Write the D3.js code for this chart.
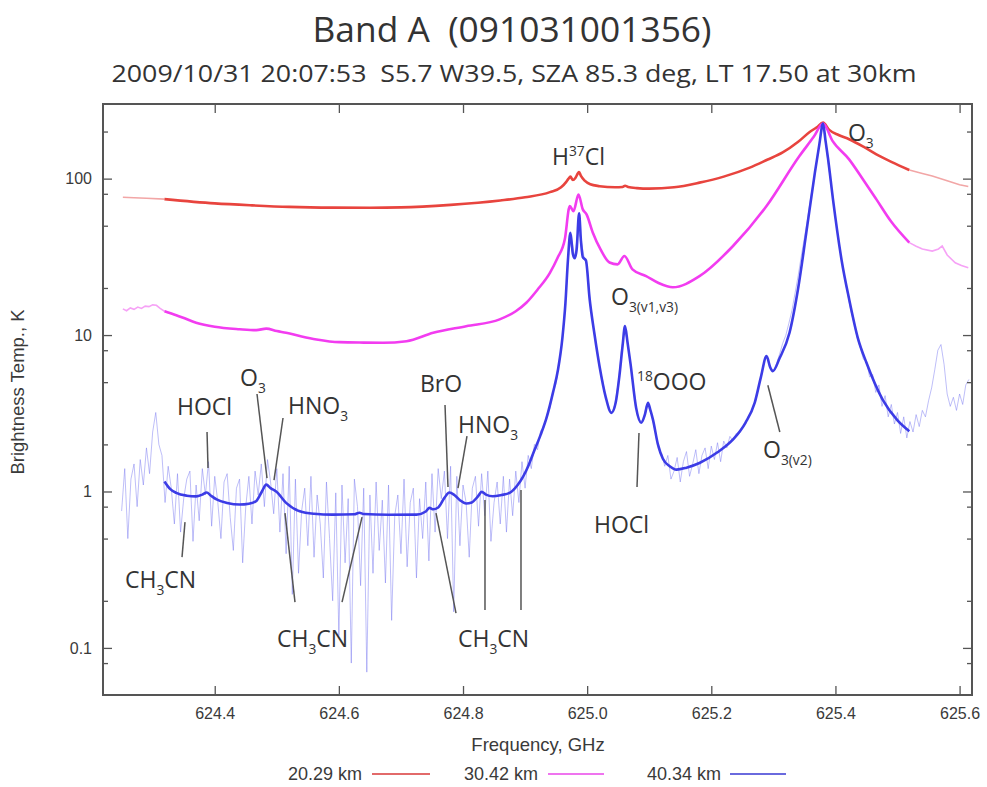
<!DOCTYPE html>
<html>
<head>
<meta charset="utf-8">
<script src="https://cdn.jsdelivr.net/npm/d3@7"></script>
<style>
  body { margin: 0; background: #fff; }
  svg { display: block; }
  .keep-space { white-space: pre; }
</style>
</head>
<body>
<svg id="chart" width="987" height="787"></svg>
<script>
// ---- Axis values ----
const freqDomain = [624.22, 625.62];           // GHz
const tempDomain = [0.05, 300];                // K
const xTicks = [624.4, 624.6, 624.8, 625.0, 625.2, 625.4, 625.6];
const yTicks = [0.1, 1, 10, 100];
const yMinorTicks = [0.08, 0.2, 0.5, 0.8, 2, 5, 8, 20, 50, 80, 200];

const seriesNames = ["20.29 km", "30.42 km", "40.34 km"];

// ---- 20.29 km: retrieval fit and measured edges [GHz, K] ----
const fit20 = [
  [624.319, 74], [624.40, 69.5], [624.46, 67.5], [624.52, 66], [624.59, 65.3],
  [624.65, 65.2], [624.70, 65.5], [624.78, 68], [624.86, 72.5], [624.90, 76],
  [624.94, 82], [624.958, 88], [624.966, 95], [624.970, 100], [624.973, 103],
  [624.977, 98], [624.981, 101], [624.985, 108], [624.987, 110], [624.990, 104],
  [624.996, 97], [625.005, 92], [625.02, 89.5], [625.045, 88], [625.057, 88.5],
  [625.061, 90], [625.066, 88.5], [625.08, 87], [625.10, 86.3], [625.14, 88],
  [625.181, 94.3], [625.22, 103], [625.262, 117.6], [625.29, 132], [625.315, 147],
  [625.34, 172], [625.358, 198], [625.37, 213], [625.380, 228], [625.39, 205],
  [625.405, 190], [625.422, 178.5], [625.445, 160], [625.466, 143], [625.49, 128],
  [625.519, 113.5]
];
const obs20Low = [[624.252, 76], [624.270, 75.5], [624.290, 75], [624.319, 74]];
const obs20High = [[625.519, 113.5], [625.540, 108], [625.556, 104], [625.580, 97],
  [625.600, 91.5], [625.614, 89]];

// ---- 30.42 km ----
const fit30 = [
  [624.319, 14.2], [624.338, 13.4], [624.348, 12.96], [624.37, 12.0], [624.40, 11.3],
  [624.44, 10.9], [624.467, 10.75], [624.483, 11.0], [624.50, 10.6], [624.515, 10.35],
  [624.54, 9.8], [624.564, 9.38], [624.601, 9.01], [624.64, 8.95], [624.671, 8.93],
  [624.709, 9.14], [624.752, 10.35], [624.805, 11.4], [624.859, 12.6], [624.885, 14.2],
  [624.902, 16.1], [624.92, 19.5], [624.940, 25], [624.952, 31], [624.964, 40.9],
  [624.972, 66.8], [624.978, 62], [624.986, 79], [624.993, 63.6], [624.999, 59.1],
  [625.009, 45.3], [625.022, 35], [625.036, 29.1], [625.049, 28.3], [625.060, 32.0],
  [625.073, 26.3], [625.095, 23.8], [625.115, 21.5], [625.138, 20.2], [625.181, 23.8],
  [625.235, 37.1], [625.289, 66.8], [625.342, 139.5], [625.365, 185], [625.380, 225],
  [625.395, 175], [625.422, 132.8], [625.445, 98], [625.466, 73.7], [625.49, 53],
  [625.519, 39]
];
const obs30Low = [[624.252, 14.7], [624.258, 14.3], [624.264, 14.9], [624.270, 14.6],
  [624.276, 15.1], [624.282, 14.8], [624.288, 15.3], [624.294, 15.2], [624.300, 15.6],
  [624.306, 15.5], [624.312, 14.8], [624.319, 14.2]];
const obs30High = [[625.519, 39], [625.530, 37], [625.540, 35.5], [625.556, 34.4],
  [625.566, 35.5], [625.572, 37.1], [625.580, 32.5], [625.593, 29], [625.603, 27.8],
  [625.614, 26.9]];

// ---- 40.34 km ----
const fit40 = [
  [624.319, 1.16], [624.328, 1.04], [624.338, 0.98], [624.355, 0.94], [624.370, 0.93],
  [624.380, 0.955], [624.387, 0.985], [624.394, 0.94], [624.403, 0.89], [624.420, 0.845],
  [624.440, 0.825], [624.455, 0.835], [624.467, 0.87], [624.476, 1.0], [624.483, 1.107],
  [624.490, 1.05], [624.499, 1.0], [624.515, 0.846], [624.537, 0.747], [624.560, 0.72],
  [624.590, 0.711], [624.625, 0.715], [624.633, 0.732], [624.640, 0.718], [624.680, 0.71],
  [624.725, 0.711], [624.740, 0.745], [624.746, 0.786], [624.752, 0.77], [624.760, 0.79],
  [624.770, 0.91], [624.778, 0.985], [624.786, 0.95], [624.795, 0.88], [624.805, 0.837],
  [624.814, 0.85], [624.824, 0.93], [624.830, 0.995], [624.837, 0.955], [624.848, 0.932],
  [624.862, 0.95], [624.875, 0.98], [624.888, 1.1], [624.897, 1.25], [624.905, 1.45],
  [624.913, 1.75], [624.925, 2.3], [624.935, 3.0], [624.945, 4.3], [624.953, 6.0],
  [624.960, 9.5], [624.965, 16], [624.969, 30], [624.973, 45], [624.977, 33],
  [624.980, 31], [624.983, 35], [624.987, 60], [624.990, 40], [624.993, 31.5],
  [624.998, 30], [625.004, 17], [625.012, 10], [625.020, 6.3], [625.030, 4.0],
  [625.039, 3.18], [625.046, 3.7], [625.052, 5.5], [625.057, 8.5], [625.061, 11.4],
  [625.065, 9.0], [625.070, 6.5], [625.079, 3.4], [625.087, 2.75], [625.093, 3.1],
  [625.098, 3.69], [625.102, 3.3], [625.106, 2.88], [625.114, 2.0], [625.122, 1.62],
  [625.133, 1.45], [625.144, 1.38], [625.160, 1.42], [625.181, 1.52], [625.210, 1.78],
  [625.235, 2.15], [625.255, 2.75], [625.270, 3.7], [625.280, 5.4], [625.289, 7.33],
  [625.295, 6.2], [625.299, 5.87], [625.310, 7.1], [625.326, 10.35], [625.340, 20],
  [625.353, 45], [625.367, 110], [625.374, 165], [625.380, 225], [625.384, 175],
  [625.388, 135], [625.396, 74], [625.410, 30], [625.422, 17], [625.436, 9.6],
  [625.450, 6.65], [625.476, 3.87], [625.500, 2.85], [625.519, 2.43]
];
// measured 40.34 km spectrum, one channel every 0.005 GHz from 624.250 GHz
const obs40Start = 624.250;
const obs40Step = 0.005;
const obs40 = [
  0.75, 1.4, 0.5, 1.2, 1.5, 0.8, 1.6, 1.1, 1.9, 1.3, 2.4, 3.2, 2.0, 1.7,
  0.85, 1.45, 1.05, 0.62, 1.30, 0.55, 0.90, 1.20, 1.35, 0.48, 1.10, 0.65, 1.40, 0.95,
  1.55, 0.60, 1.25, 0.85, 0.50, 1.15, 1.30, 0.68, 0.42, 1.05, 1.20, 0.35, 0.80, 1.25,
  0.62, 1.35, 0.95, 1.50, 0.80, 1.60, 1.15, 0.72, 1.40, 0.55, 1.30, 0.40, 1.45, 0.22,
  1.20, 0.30, 0.75, 1.05, 0.45, 1.25, 0.38, 0.95, 0.62, 0.28, 1.15, 0.50, 0.20, 0.98,
  0.12, 1.10, 0.35, 0.90, 0.08, 1.20, 0.80, 0.25, 1.05, 0.07, 0.95, 0.30, 1.15, 0.42,
  0.88, 0.26, 1.10, 0.15, 0.70, 0.95, 0.40, 1.20, 0.33, 0.85, 1.05, 0.28, 0.90, 0.50,
  1.15, 0.36, 1.30, 0.55, 1.40, 0.90, 1.35, 0.50, 1.45, 0.17, 1.25, 0.45, 1.10, 0.85,
  0.38, 1.05, 1.25, 0.60, 1.30, 0.70, 1.35, 0.48, 0.85, 1.15, 0.62, 1.25, 0.55, 1.20,
  0.70, 1.35, 0.85, 1.55, 1.05, 1.70, 1.40, 2.00, 1.85, 2.45, 2.55, 3.10, 3.40, 4.30,
  4.90, 6.90, 9.3, 16.5, 34, 41, 31.5, 46, 41, 31.5, 27.5, 16.3, 11.3, 8.4,
  6.2, 5.1, 3.95, 3.45, 3.15, 3.65, 4.95, 7.8, 10.8, 9.1, 6.5, 4.5, 3.25, 2.85,
  2.8, 3.5, 3.4, 3.0, 2.35, 1.85, 1.75, 1.45, 1.70, 1.20, 1.35, 1.65, 1.15, 1.55,
  1.80, 1.25, 1.50, 1.85, 1.30, 1.70, 1.90, 1.40, 1.95, 1.60, 2.05, 1.55, 2.10, 1.90,
  2.25, 2.10, 2.35, 2.35, 2.60, 2.70, 3.05, 3.25, 3.75, 4.35, 5.55, 6.75, 7.30, 6.25,
  5.85, 6.55, 7.55, 8.85, 9.95, 11.9, 14.4, 18.6, 24, 32, 42, 55, 75, 98,
  130, 175, 222, 160, 112, 78, 55, 40, 30, 23, 18, 14.2, 11.9, 9.6,
  8.3, 7.0, 6.8, 5.4, 5.6, 4.3, 4.8, 3.5, 4.1, 3.0, 3.6, 2.7, 3.2, 2.35,
  3.0, 2.2, 2.8, 2.4, 3.1, 2.6, 3.3, 3.0, 3.8, 4.6, 6.0, 8.0, 8.7, 6.5,
  4.2, 3.5, 4.0, 3.3, 4.2, 3.6, 4.8, 5.2
];

// ---- Line identifications: label parts, label anchor [GHz, K], leader segments ----
const lineLabels = [
  { parts: [{ t: "H" }, { t: "37", sup: true }, { t: "Cl" }], at: [624.9434, 122.2], leaders: [] },
  { parts: [{ t: "O" }, { t: "3", sub: true }], at: [625.4202, 174], leaders: [] },
  { parts: [{ t: "O" }, { t: "3(v1,v3)", sub: true }], at: [625.0384, 15.55], leaders: [] },
  { parts: [{ t: "18", sup: true }, { t: "OOO" }], at: [625.0803, 4.45], leaders: [] },
  { parts: [{ t: "O" }, { t: "3(v2)", sub: true }], at: [625.2833, 1.635],
    leaders: [[[625.2911, 4.78], [625.3104, 2.40]]] },
  { parts: [{ t: "HOCl" }], at: [625.011, 0.542],
    leaders: [[[625.0835, 2.363], [625.0803, 1.067]]] },
  { parts: [{ t: "O" }, { t: "3", sub: true }], at: [624.4407, 4.72],
    leaders: [[[624.4681, 4.2], [624.4842, 1.218]]] },
  { parts: [{ t: "HOCl" }], at: [624.3392, 3.08],
    leaders: [[[624.3876, 2.40], [624.3892, 1.411]]] },
  { parts: [{ t: "HNO" }, { t: "3", sub: true }], at: [624.518, 3.13],
    leaders: [[[624.510, 2.95], [624.4955, 1.183]]] },
  { parts: [{ t: "BrO" }], at: [624.7307, 4.32],
    leaders: [[[624.771, 3.57], [624.7758, 1.067]]] },
  { parts: [{ t: "HNO" }, { t: "3", sub: true }], at: [624.7919, 2.363],
    leaders: [[[624.8064, 2.26], [624.7919, 1.051]]] },
  { parts: [{ t: "CH" }, { t: "3", sub: true }, { t: "CN" }], at: [624.2554, 0.2412],
    leaders: [[[624.3521, 0.637], [624.3473, 0.3806]]] },
  { parts: [{ t: "CH" }, { t: "3", sub: true }, { t: "CN" }], at: [624.5003, 0.1012],
    leaders: [[[624.5132, 0.7275], [624.5293, 0.1963]], [[624.6373, 0.686], [624.6051, 0.1963]]] },
  { parts: [{ t: "CH" }, { t: "3", sub: true }, { t: "CN" }], at: [624.7919, 0.1012],
    leaders: [[[624.7565, 0.7275], [624.7887, 0.167]], [[624.8354, 0.881], [624.8354, 0.1745]],
              [[624.8934, 1.021], [624.8934, 0.1745]]] }
];

// ---- Layout ----
const plot = { left: 103, right: 972, top: 104, bottom: 695 };
const colors = {
  fit: ["#e8443e", "#f23cf0", "#3c3ce6"],
  obs: ["#f2a6a6", "#f6a2f6", "#7b7bf0"],
  legend: ["#e26a6a", "#ef74ef", "#6a6ade"]
};
const textColor = "#3a3a3a";
const axisColor = "#555";

const svg = d3.select("#chart");
const x = d3.scaleLinear().domain(freqDomain).range([plot.left, plot.right]);
const y = d3.scaleLog().domain(tempDomain).range([plot.bottom, plot.top]);

// Titles
svg.append("text")
  .attr("class", "keep-space")
  .attr("x", 512).attr("y", 42)
  .attr("text-anchor", "middle")
  .attr("font-family", "Open Sans, sans-serif")
  .attr("font-size", 34)
  .attr("fill", "#333")
  .attr("textLength", 399).attr("lengthAdjust", "spacingAndGlyphs")
  .text("Band A  (091031001356)");
svg.append("text")
  .attr("class", "keep-space")
  .attr("x", 514).attr("y", 82)
  .attr("text-anchor", "middle")
  .attr("font-family", "Open Sans, sans-serif")
  .attr("font-size", 23)
  .attr("fill", "#333")
  .attr("textLength", 805).attr("lengthAdjust", "spacingAndGlyphs")
  .text("2009/10/31 20:07:53  S5.7 W39.5, SZA 85.3 deg, LT 17.50 at 30km");

// Clip region for spectra
svg.append("defs").append("clipPath").attr("id", "plotClip")
  .append("rect")
  .attr("x", plot.left).attr("y", plot.top)
  .attr("width", plot.right - plot.left).attr("height", plot.bottom - plot.top);

const marks = svg.append("g").attr("clip-path", "url(#plotClip)");

const smoothLine = d3.line().x(d => x(d[0])).y(d => y(d[1])).curve(d3.curveMonotoneX);
const rawLine = d3.line().x(d => x(d[0])).y(d => y(d[1]));

// measured 40.34 km channels
const obs40Points = obs40.map((v, i) => [obs40Start + i * obs40Step, v]);

// faint measured spectra
[[obs20Low, 0], [obs20High, 0], [obs30Low, 1], [obs30High, 1]].forEach(([pts, k]) => {
  marks.append("path").datum(pts)
    .attr("d", rawLine)
    .attr("fill", "none")
    .attr("stroke", colors.obs[k])
    .attr("stroke-width", 1.6);
});
marks.append("path").datum(obs40Points)
  .attr("d", rawLine)
  .attr("fill", "none")
  .attr("stroke", colors.obs[2])
  .attr("stroke-opacity", 0.55)
  .attr("stroke-width", 0.9);

// retrieval fits
[fit20, fit30, fit40].forEach((pts, k) => {
  marks.append("path").datum(pts)
    .attr("d", smoothLine)
    .attr("fill", "none")
    .attr("stroke", colors.fit[k])
    .attr("stroke-width", 2.6)
    .attr("stroke-linejoin", "round");
});

// ---- Axes (ticks inward, mirrored on all sides) ----
const fmtY = d => (d < 1 ? d3.format(".1f")(d) : d3.format("d")(d));
function styleAxis(g) {
  g.select(".domain").remove();
  g.selectAll(".tick line").attr("stroke", axisColor).attr("stroke-width", 1.3);
  g.selectAll(".tick text")
    .attr("fill", textColor)
    .attr("font-family", "Liberation Sans, Arial, sans-serif")
    .attr("font-size", 16);
}
svg.append("g").attr("transform", `translate(0,${plot.bottom})`)
  .call(d3.axisBottom(x).tickValues(xTicks).tickSize(-9).tickPadding(13).tickFormat(d3.format(".1f")))
  .call(styleAxis);
svg.append("g").attr("transform", `translate(0,${plot.top})`)
  .call(d3.axisTop(x).tickValues(xTicks).tickSize(-9).tickFormat(""))
  .call(styleAxis);
svg.append("g").attr("transform", `translate(${plot.left},0)`)
  .call(d3.axisLeft(y).tickValues(yTicks).tickSize(-9).tickPadding(11).tickFormat(fmtY))
  .call(styleAxis);
svg.append("g").attr("transform", `translate(${plot.left},0)`)
  .call(d3.axisLeft(y).tickValues(yMinorTicks).tickSize(-5).tickFormat(""))
  .call(styleAxis);
svg.append("g").attr("transform", `translate(${plot.right},0)`)
  .call(d3.axisRight(y).tickValues(yTicks).tickSize(-9).tickFormat(""))
  .call(styleAxis);
svg.append("g").attr("transform", `translate(${plot.right},0)`)
  .call(d3.axisRight(y).tickValues(yMinorTicks).tickSize(-5).tickFormat(""))
  .call(styleAxis);

// frame
svg.append("rect")
  .attr("x", plot.left).attr("y", plot.top)
  .attr("width", plot.right - plot.left).attr("height", plot.bottom - plot.top)
  .attr("fill", "none").attr("stroke", axisColor).attr("stroke-width", 2);

// axis titles
svg.append("text")
  .attr("x", 538).attr("y", 751)
  .attr("text-anchor", "middle")
  .attr("font-family", "Liberation Sans, Arial, sans-serif")
  .attr("font-size", 18.5).attr("fill", textColor)
  .text("Frequency, GHz");
svg.append("text")
  .attr("transform", "translate(24,392) rotate(-90)")
  .attr("text-anchor", "middle")
  .attr("font-family", "Liberation Sans, Arial, sans-serif")
  .attr("font-size", 18.5).attr("fill", textColor)
  .text("Brightness Temp., K");

// ---- Line identification labels ----
const ann = svg.append("g")
  .attr("font-family", "Open Sans, sans-serif")
  .attr("fill", "#333");
const annSize = 23;
function addRich(sel, parts, px, py, size) {
  const t = sel.append("text").attr("x", px).attr("y", py).attr("font-size", size);
  let off = 0;
  parts.forEach(p => {
    const target = p.sub ? size * 0.3 : p.sup ? -size * 0.38 : 0;
    const ts = t.append("tspan").attr("dy", target - off).text(p.t);
    if (p.sub || p.sup) ts.attr("font-size", size * 0.6);
    off = target;
  });
}
lineLabels.forEach(l => {
  l.leaders.forEach(seg => {
    ann.append("line")
      .attr("x1", x(seg[0][0])).attr("y1", y(seg[0][1]))
      .attr("x2", x(seg[1][0])).attr("y2", y(seg[1][1]))
      .attr("stroke", "#555").attr("stroke-width", 1.5);
  });
  addRich(ann, l.parts, x(l.at[0]), y(l.at[1]), annSize);
});

// ---- Legend ----
const legendItems = [
  { textEnd: 362, lineStart: 372, lineEnd: 430 },
  { textEnd: 538, lineStart: 548, lineEnd: 604 },
  { textEnd: 721, lineStart: 730, lineEnd: 786 }
];
const legendY = 774;
legendItems.forEach((it, k) => {
  svg.append("text")
    .attr("x", it.textEnd).attr("y", legendY + 6)
    .attr("text-anchor", "end")
    .attr("font-family", "Liberation Sans, Arial, sans-serif")
    .attr("font-size", 18).attr("fill", textColor)
    .text(seriesNames[k]);
  svg.append("line")
    .attr("x1", it.lineStart).attr("x2", it.lineEnd)
    .attr("y1", legendY).attr("y2", legendY)
    .attr("stroke", colors.legend[k]).attr("stroke-width", 2);
});
</script>
</body>
</html>
